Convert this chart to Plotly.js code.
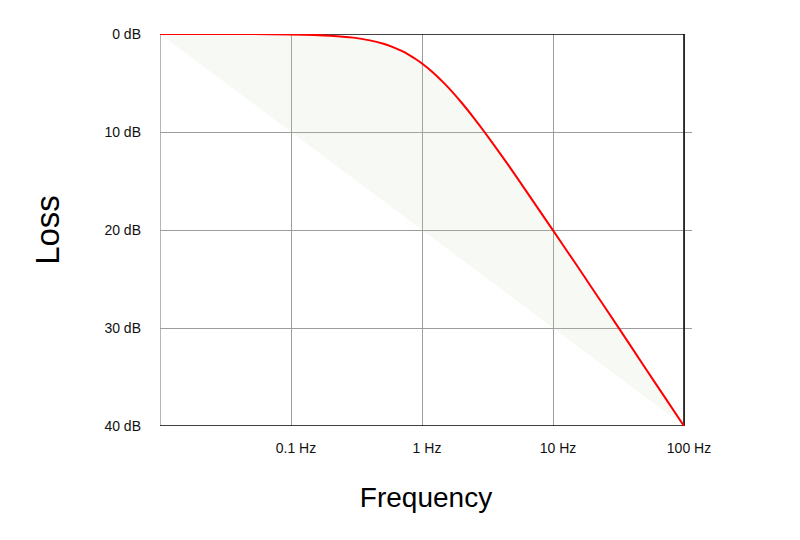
<!DOCTYPE html>
<html>
<head>
<meta charset="utf-8">
<script src="https://cdn.plot.ly/plotly-3.0.1.min.js"></script>
<style>html,body{margin:0;padding:0;background:#fff}#chart{width:800px;height:540px}</style>
</head>
<body>
<div id="chart"></div>
<script>
// Frequency (Hz) and loss (dB)
var freq = [0.01, 0.02, 0.05, 0.1, 0.2, 0.3, 0.4, 0.5, 0.6, 0.7, 0.8, 0.9, 1, 1.2, 1.5, 2, 2.5, 3, 4, 5, 7, 10, 15, 20, 30, 50, 70, 100];
var loss = [0, 0, 0.01, 0.04, 0.17, 0.37, 0.65, 0.97, 1.34, 1.73, 2.15, 2.58, 3.01, 3.87, 5.12, 6.99, 8.6, 10.0, 12.3, 14.15, 17.0, 20.04, 23.5, 26.0, 29.5, 33.98, 36.9, 40.0];
// Straight asymptote bounding the shaded area
var diagFreq = [0.01, 100];
var diagLoss = [0, 40];
// Axis ticks
var xTickVals = [0.1, 1, 10, 100];
var xTickText = ['0.1 Hz', '1 Hz', '10 Hz', '100 Hz'];
var yTickVals = [0, 10, 20, 30, 40];
var yTickText = ['0 dB', '10 dB', '20 dB', '30 dB', '40 dB'];

var xMin = freq[0], xMax = freq[freq.length - 1];
var yMin = 0, yMax = 40;

var traces = [
  {x: diagFreq, y: diagLoss, mode: 'lines', line: {width: 0, color: 'rgba(0,0,0,0)'}, hoverinfo: 'skip', showlegend: false},
  {x: freq, y: loss, mode: 'lines', line: {color: '#ff0000', width: 2, shape: 'spline', smoothing: 0.6},
   fill: 'tonexty', fillcolor: 'rgba(200,215,185,0.15)', showlegend: false}
];

var fontFamily = '"Liberation Sans", Arial, sans-serif';
var labelFont = {family: fontFamily, size: 14, color: '#111'};

var layout = {
  width: 800, height: 540,
  margin: {l: 160, r: 108, t: 34, b: 114},
  paper_bgcolor: '#fff', plot_bgcolor: '#fff',
  showlegend: false,
  xaxis: {
    type: 'log',
    range: [Math.log10(xMin), Math.log10(xMax) + 0.061],
    tickvals: xTickVals, ticktext: xTickText,
    showgrid: true, gridcolor: '#9c9c9c', gridwidth: 1,
    zeroline: false, showline: false, ticks: '',
    tickfont: labelFont, ticklabelstandoff: 12, ticklabelshift: 5,
    title: {text: 'Frequency', font: {family: fontFamily, size: 28, color: '#000'}, standoff: 32}
  },
  yaxis: {
    range: [yMax, yMin],
    tickvals: yTickVals, ticktext: yTickText,
    showgrid: true, gridcolor: '#9c9c9c', gridwidth: 1,
    zeroline: false, showline: false, ticks: '',
    tickfont: labelFont, ticklabelstandoff: 18,
    title: {text: 'Loss', font: {family: fontFamily, size: 33, color: '#000'}, standoff: 34}
  },
  shapes: [
    {type: 'line', xref: 'x', yref: 'y', x0: xMin, x1: xMin, y0: yMin, y1: yMax, line: {color: '#9c9c9c', width: 1.5}, layer: 'between'},
    {type: 'line', xref: 'x', yref: 'y', x0: xMin, x1: xMax, y0: yMin, y1: yMin, line: {color: '#000', width: 1.5}, layer: 'between'},
    {type: 'line', xref: 'x', yref: 'y', x0: xMin, x1: xMax, y0: yMax, y1: yMax, line: {color: '#000', width: 1.5}, layer: 'between'},
    {type: 'line', xref: 'x', yref: 'y', x0: xMax, x1: xMax, y0: yMin, y1: yMax, line: {color: '#000', width: 1.5}, layer: 'between'}
  ]
};

Plotly.newPlot('chart', traces, layout, {displayModeBar: false, staticPlot: true});
</script>
</body>
</html>
